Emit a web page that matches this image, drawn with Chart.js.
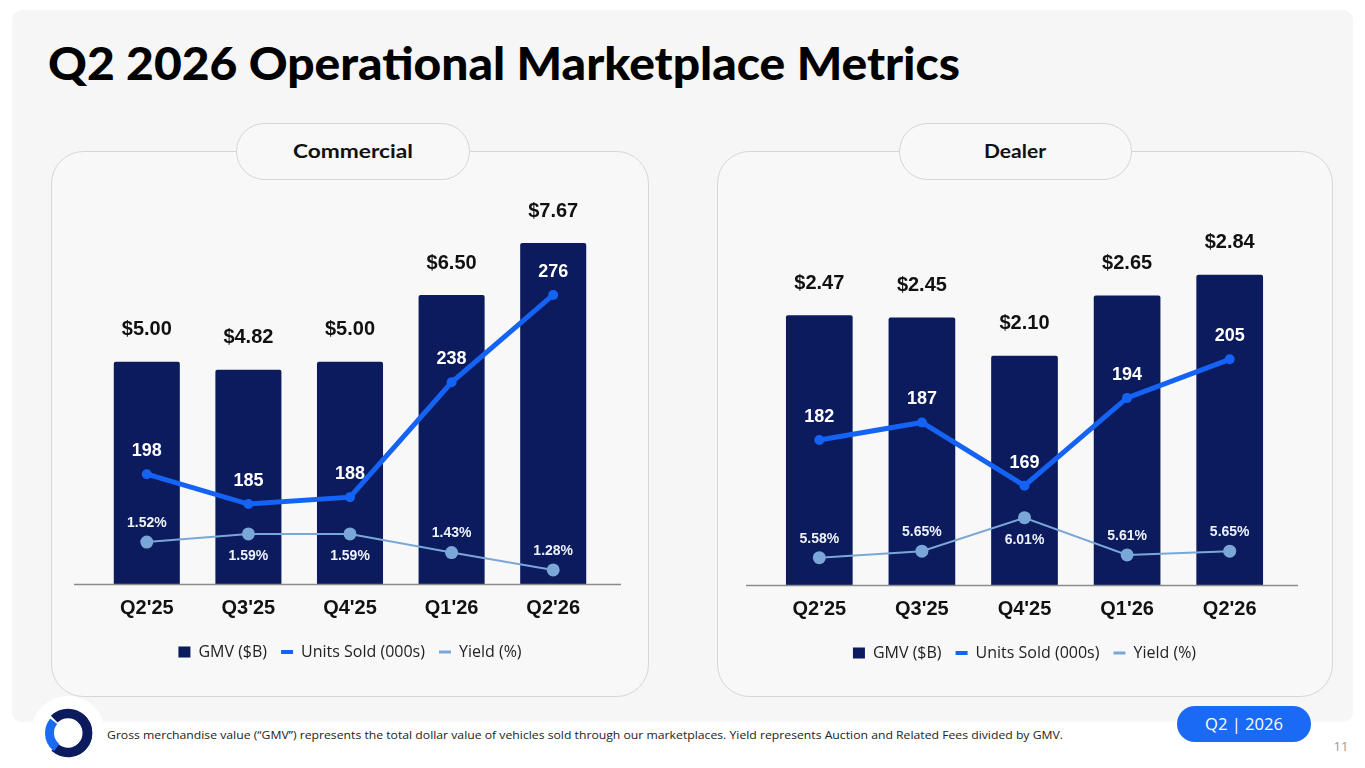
<!DOCTYPE html>
<html>
<head>
<meta charset="utf-8">
<script src="https://cdn.jsdelivr.net/npm/chart.js@4.4.1/dist/chart.umd.min.js"></script>
<style>
html,body{margin:0;padding:0;background:#fff;width:1365px;height:768px;overflow:hidden;}
#bg{position:absolute;left:0;top:0;}
.cwrap{position:absolute;}
</style>
</head>
<body>
<svg id="bg" width="1365" height="768" xmlns="http://www.w3.org/2000/svg">
  <rect x="12" y="10" width="1341" height="712" rx="10" fill="#f6f6f6"/>
  <rect x="51.5" y="151.5" width="597" height="545" rx="32" fill="#f8f8f8" stroke="#d6d6d6" stroke-width="1"/>
  <rect x="236.5" y="123.5" width="233" height="56" rx="28" fill="#f8f8f8" stroke="#d6d6d6" stroke-width="1"/>
  <text x="353" y="158" text-anchor="middle" font-family="Lato" font-weight="700" font-size="18" fill="#111" textLength="120" lengthAdjust="spacingAndGlyphs">Commercial</text>
  <rect x="717.5" y="151.5" width="615" height="545" rx="32" fill="#f8f8f8" stroke="#d6d6d6" stroke-width="1"/>
  <rect x="899.5" y="123.5" width="232" height="56" rx="28" fill="#f8f8f8" stroke="#d6d6d6" stroke-width="1"/>
  <text x="1015" y="158" text-anchor="middle" font-family="Lato" font-weight="700" font-size="18" fill="#111" textLength="62" lengthAdjust="spacingAndGlyphs">Dealer</text>
  <text x="48" y="80" font-family="Lato" font-weight="900" font-size="45" fill="#000" textLength="912" lengthAdjust="spacingAndGlyphs">Q2 2026 Operational Marketplace Metrics</text>
  <circle cx="68" cy="733" r="37" fill="#ffffff"/>
  <circle cx="68" cy="733" r="19.5" fill="none" stroke="#0b1b5e" stroke-width="9.5" stroke-dasharray="70 52.5" transform="rotate(225 68 733)"/>
  <circle cx="68" cy="733" r="19.5" fill="none" stroke="#0b1b5e" stroke-width="9.5" stroke-dasharray="62 60.5" transform="rotate(-50 68 733)"/>
  <circle cx="68" cy="733" r="18.5" fill="none" stroke="#1a6af5" stroke-width="9" stroke-dasharray="28 86" transform="rotate(132 68 733)"/>
  <text x="107" y="739" font-family="Open Sans" font-size="11" fill="#222" textLength="956" lengthAdjust="spacingAndGlyphs">Gross merchandise value (“GMV”) represents the total dollar value of vehicles sold through our marketplaces. Yield represents Auction and Related Fees divided by GMV.</text>
  <rect x="1177" y="706" width="134" height="36" rx="18" fill="#1a6af5"/>
  <text x="1244" y="730" text-anchor="middle" font-family="Open Sans" font-size="16" fill="#fff" textLength="78" lengthAdjust="spacingAndGlyphs">Q2 | 2026</text>
  <text x="1341" y="751" text-anchor="middle" font-family="Open Sans" font-size="13" fill="#999">11</text>
</svg>

<div class="cwrap" style="left:56px;top:160px;width:590px;height:530px;"><canvas id="commercial" width="590" height="530"></canvas></div>
<div class="cwrap" style="left:722px;top:160px;width:606px;height:530px;"><canvas id="dealer" width="606" height="530"></canvas></div>

<script>
// ---- Data ----
const categories = ["Q2'25", "Q3'25", "Q4'25", "Q1'26", "Q2'26"];
const seriesNames = ["GMV ($B)", "Units Sold (000s)", "Yield (%)"];

const commercialGMV = [5.00, 4.82, 5.00, 6.50, 7.67];
const commercialUnits = [198, 185, 188, 238, 276];
const commercialYield = [1.52, 1.59, 1.59, 1.43, 1.28];

const dealerGMV = [2.47, 2.45, 2.10, 2.65, 2.84];
const dealerUnits = [182, 187, 169, 194, 205];
const dealerYield = [5.58, 5.65, 6.01, 5.61, 5.65];

// ---- Style ----
const NAVY = '#0b1b5e';
const BLUE = '#1463f5';
const LIGHT = '#7ba6d8';
const LABEL_FONT = '"Liberation Sans", Arial, sans-serif';

const valueLabels = {
  id: 'valueLabels',
  afterDatasetsDraw(chart) {
    const ctx = chart.ctx;
    const a = chart.chartArea;
    ctx.save();
    ctx.strokeStyle = '#8c8c8c';
    ctx.lineWidth = 1.5;
    ctx.beginPath();
    ctx.moveTo(a.left - 22, a.bottom + 0.5);
    ctx.lineTo(a.right + 17, a.bottom + 0.5);
    ctx.stroke();
    ctx.restore();
    chart.data.datasets.forEach((ds, i) => {
      const L = ds.valueLabel;
      if (!L) return;
      const meta = chart.getDatasetMeta(i);
      meta.data.forEach((el, j) => {
        const pos = L.pos ? L.pos[j] : 'above';
        const y = pos === 'below' ? el.y + L.below : el.y - L.above;
        ctx.save();
        ctx.font = L.font;
        ctx.fillStyle = L.color;
        ctx.textAlign = 'center';
        ctx.textBaseline = 'middle';
        ctx.fillText(L.fmt(ds.data[j]), el.x, y);
        ctx.restore();
      });
    });
  }
};

function makeChart(id, gmv, units, yld, yieldPos, r, pad) {
  return new Chart(document.getElementById(id), {
    data: {
      labels: categories,
      datasets: [
        {
          type: 'bar', label: seriesNames[0], data: gmv, yAxisID: 'y', order: 3,
          backgroundColor: NAVY, borderWidth: 0, borderRadius: 2, borderSkipped: 'bottom',
          barPercentage: 0.65, categoryPercentage: 1,
          valueLabel: { fmt: v => '$' + v.toFixed(2), font: 'bold 20px ' + LABEL_FONT, color: '#111', above: 32, below: 0 }
        },
        {
          type: 'line', label: seriesNames[1], data: units, yAxisID: 'yU', order: 1,
          borderColor: BLUE, backgroundColor: BLUE, borderWidth: 5, tension: 0,
          pointRadius: 5, pointBackgroundColor: BLUE, pointBorderWidth: 0,
          valueLabel: { fmt: v => String(v), font: 'bold 18px ' + LABEL_FONT, color: '#ffffff', above: 23, below: 0 }
        },
        {
          type: 'line', label: seriesNames[2], data: yld, yAxisID: 'yY', order: 2,
          borderColor: LIGHT, backgroundColor: LIGHT, borderWidth: 2, tension: 0,
          pointRadius: 6.5, pointBackgroundColor: LIGHT, pointBorderWidth: 0,
          valueLabel: { fmt: v => v.toFixed(2) + '%', font: 'bold 14px ' + LABEL_FONT, color: '#eef2f9', above: 19, below: 22, pos: yieldPos }
        }
      ]
    },
    options: {
      responsive: false,
      animation: false,
      layout: { padding: pad },
      plugins: {
        tooltip: { enabled: false },
        legend: {
          position: 'bottom',
          labels: {
            usePointStyle: true, boxWidth: 11, boxHeight: 11, pointStyleWidth: 12, padding: 14,
            color: '#222', font: { family: '"Open Sans", sans-serif', size: 16 },
            generateLabels(chart) {
              const items = Chart.defaults.plugins.legend.labels.generateLabels(chart);
              items.sort((a, b) => a.datasetIndex - b.datasetIndex);
              items.forEach(it => {
                if (it.datasetIndex === 0) { it.pointStyle = 'rect'; it.lineWidth = 0; it.fillStyle = NAVY; }
                else if (it.datasetIndex === 1) { it.pointStyle = 'line'; it.lineWidth = 4; it.strokeStyle = BLUE; }
                else { it.pointStyle = 'line'; it.lineWidth = 3; it.strokeStyle = LIGHT; }
              });
              return items;
            }
          }
        }
      },
      scales: {
        x: {
          grid: { display: false, drawTicks: false }, border: { display: false },
          ticks: { color: '#111', font: { family: LABEL_FONT, weight: 'bold', size: 20 }, padding: 12 },
          afterFit(s) { s.height = 46; }
        },
        y: { display: false, min: r.gmv[0], max: r.gmv[1] },
        yU: { display: false, min: r.units[0], max: r.units[1] },
        yY: { display: false, min: r.yld[0], max: r.yld[1] }
      }
    },
    plugins: [valueLabels]
  });
}

makeChart('commercial', commercialGMV, commercialUnits, commercialYield,
  ['above', 'below', 'below', 'above', 'above'],
  { gmv: [0, 9], units: [150.2, 324.3], yld: [1.159, 4.605] },
  { left: 40, right: 42, top: 24, bottom: 20 });

makeChart('dealer', dealerGMV, dealerUnits, dealerYield,
  ['above', 'above', 'below', 'above', 'above'],
  { gmv: [0, 3.663], units: [140.7, 254.65], yld: [5.2865, 9.588] },
  { left: 46, right: 47, top: 25, bottom: 19 });
</script>
</body>
</html>
